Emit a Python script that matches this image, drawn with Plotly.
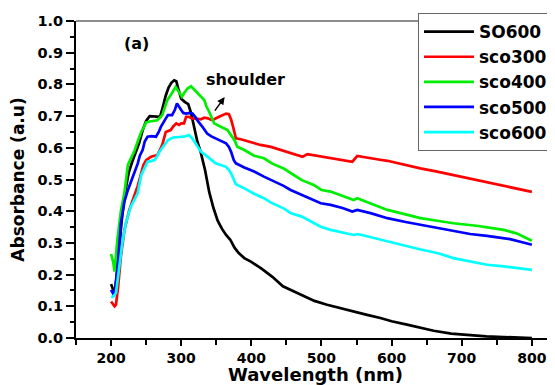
import plotly.graph_objects as go

# ---- data ----
so600_w = [200, 203, 205, 208, 212, 216, 220, 225, 230, 235, 240, 245, 250, 255, 260, 265, 270, 274, 278, 282,
           286, 290, 293, 296, 300, 305, 310, 314, 318, 323, 328, 334, 340, 346, 352, 358, 364, 370, 376, 382,
           390, 400, 415, 430, 445, 460, 475, 490, 508, 525, 546, 565, 584, 600, 622, 640, 660, 685, 712, 735,
           760, 780, 800]
so600_a = [0.17, 0.15, 0.14, 0.2, 0.3, 0.39, 0.46, 0.52, 0.555, 0.585, 0.615, 0.655, 0.685, 0.70, 0.70, 0.70,
           0.698, 0.73, 0.765, 0.79, 0.805, 0.813, 0.81, 0.785, 0.755, 0.745, 0.738, 0.71, 0.67, 0.62, 0.585,
           0.53, 0.46, 0.41, 0.37, 0.345, 0.325, 0.31, 0.285, 0.268, 0.252, 0.24, 0.218, 0.193, 0.163, 0.148,
           0.131, 0.117, 0.105, 0.095, 0.084, 0.073, 0.063, 0.053, 0.042, 0.032, 0.023, 0.014, 0.008, 0.005,
           0.003, 0.001, 0.0]

sco300_w = [200, 203, 205, 207, 210, 214, 219, 226, 233, 238, 243, 246, 250, 257, 262, 266, 270, 273, 278, 285,
            289, 293, 297, 300, 304, 307, 311, 315, 320, 328, 333, 338, 343, 347, 354, 360, 364, 368, 371, 374,
            378, 385, 399, 413, 428, 442, 458, 473, 480, 495, 513, 530, 544, 551, 565, 579, 594, 615, 641, 665,
            690, 712, 735, 760, 780, 800]
sco300_a = [0.115, 0.105, 0.10, 0.105, 0.16, 0.257, 0.34, 0.404, 0.446, 0.48, 0.52, 0.545, 0.561, 0.572, 0.575,
            0.577, 0.595, 0.609, 0.65, 0.656, 0.668, 0.677, 0.672, 0.677, 0.677, 0.698, 0.698, 0.693, 0.692,
            0.69, 0.695, 0.693, 0.688, 0.69, 0.698, 0.705, 0.708, 0.706, 0.69, 0.666, 0.63, 0.627, 0.619, 0.609,
            0.603, 0.593, 0.583, 0.572, 0.58, 0.574, 0.567, 0.562, 0.556, 0.574, 0.568, 0.564, 0.559, 0.548,
            0.535, 0.525, 0.513, 0.504, 0.493, 0.48, 0.47, 0.461]

sco400_w = [200, 203, 205, 209, 214, 219, 222, 224, 228, 233, 238, 243, 247, 250, 255, 260, 266, 273, 280, 286,
            292, 297, 301, 305, 309, 314, 318, 323, 328, 333, 336, 340, 344, 347, 355, 362, 366, 371, 376, 380,
            390, 404, 418, 430, 446, 460, 472, 489, 500, 513, 530, 546, 551, 570, 594, 620, 641, 665, 688, 721,
            745, 760, 778, 790, 800]
sco400_a = [0.265, 0.24, 0.21, 0.31, 0.40, 0.457, 0.51, 0.546, 0.565, 0.588, 0.62, 0.65, 0.666, 0.68, 0.683,
            0.685, 0.687, 0.703, 0.75, 0.77, 0.792, 0.775, 0.761, 0.775, 0.787, 0.794, 0.785, 0.776, 0.762, 0.75,
            0.73, 0.713, 0.69, 0.677, 0.668, 0.66, 0.656, 0.64, 0.624, 0.603, 0.593, 0.575, 0.567, 0.55, 0.535,
            0.515, 0.498, 0.483, 0.467, 0.462, 0.448, 0.435, 0.441, 0.425, 0.404, 0.39, 0.378, 0.37, 0.362,
            0.354, 0.346, 0.341, 0.33, 0.318, 0.307]

sco500_w = [200, 203, 206, 210, 214, 219, 224, 228, 233, 238, 241, 245, 248, 252, 258, 264, 268, 271, 276, 281,
            287, 291, 294, 297, 300, 303, 307, 312, 316, 320, 323, 330, 337, 343, 349, 356, 364, 368, 371, 375,
            378, 390, 404, 418, 432, 446, 456, 472, 485, 499, 513, 530, 544, 551, 570, 594, 620, 641, 665, 688,
            712, 736, 755, 769, 785, 800]
sco500_a = [0.152, 0.14, 0.15, 0.24, 0.36, 0.43, 0.467, 0.49, 0.52, 0.55, 0.575, 0.593, 0.62, 0.635, 0.637,
            0.635, 0.65, 0.666, 0.685, 0.703, 0.703, 0.72, 0.74, 0.728, 0.719, 0.71, 0.708, 0.71, 0.708, 0.698,
            0.687, 0.667, 0.645, 0.636, 0.63, 0.622, 0.614, 0.603, 0.588, 0.561, 0.551, 0.538, 0.525, 0.509,
            0.495, 0.48, 0.467, 0.451, 0.438, 0.425, 0.42, 0.41, 0.399, 0.404, 0.394, 0.378, 0.366, 0.357, 0.346,
            0.336, 0.328, 0.322, 0.317, 0.312, 0.303, 0.294]

sco600_w = [200, 203, 207, 212, 216, 221, 228, 233, 238, 243, 248, 252, 257, 262, 266, 269, 273, 276, 281, 286,
            290, 297, 304, 311, 315, 319, 323, 328, 333, 338, 343, 349, 356, 364, 368, 371, 375, 378, 390, 404,
            418, 428, 446, 456, 472, 485, 499, 513, 530, 546, 552, 566, 584, 600, 622, 640, 655, 670, 688, 710,
            736, 760, 780, 800]
sco600_a = [0.131, 0.13, 0.142, 0.225, 0.3, 0.362, 0.414, 0.435, 0.457, 0.514, 0.54, 0.556, 0.558, 0.561, 0.575,
            0.588, 0.6, 0.609, 0.624, 0.63, 0.633, 0.634, 0.635, 0.64, 0.632, 0.619, 0.605, 0.588, 0.58, 0.572,
            0.562, 0.551, 0.545, 0.54, 0.53, 0.52, 0.5, 0.485, 0.472, 0.455, 0.441, 0.427, 0.409, 0.394, 0.383,
            0.367, 0.351, 0.341, 0.333, 0.325, 0.328, 0.32, 0.31, 0.302, 0.29, 0.28, 0.273, 0.265, 0.252, 0.243,
            0.231, 0.226, 0.22, 0.215]

series_names = ["SO600", "sco300", "sco400", "sco500", "sco600"]
series_colors = ["#000000", "#ff0000", "#00ee00", "#0000ff", "#00ffff"]
series_w = [so600_w, sco300_w, sco400_w, sco500_w, sco600_w]
series_a = [so600_a, sco300_a, sco400_a, sco500_a, sco600_a]

x_ticks = [200, 300, 400, 500, 600, 700, 800]

FONT = "DejaVu Sans"

fig = go.Figure()
for name, col, w, a in zip(series_names, series_colors, series_w, series_a):
    fig.add_trace(go.Scatter(x=w, y=a, mode="lines", name=name,
                             line=dict(color=col, width=2.7)))

# The page body adds an 8px offset, so the figure is 8px smaller than the window.
fig.update_layout(
    width=547, height=377,
    margin=dict(l=68, r=0, t=13, b=47, autoexpand=False),
    paper_bgcolor="white", plot_bgcolor="white",
    font=dict(family=FONT, color="black"),
    showlegend=True,
    legend=dict(x=0.714, y=1.025, xanchor="left", yanchor="top",
                bgcolor="white", bordercolor="#666666", borderwidth=1,
                itemwidth=50,
                font=dict(family=FONT, size=17, weight="bold", color="black"),
                tracegroupgap=0),
    xaxis=dict(range=[150, 833], tickvals=x_ticks, ticks="outside", ticklen=6, tickwidth=2,
               tickcolor="black", showline=True, linecolor="black", linewidth=2,
               showgrid=False, zeroline=False, automargin=False,
               tickfont=dict(family=FONT, size=14, weight="bold"),
               minor=dict(ticks="outside", ticklen=5, tickwidth=2, tickcolor="black",
                          tick0=150, dtick=50, showgrid=False),
               title=dict(text="Wavelength (nm)", standoff=5,
                          font=dict(family=FONT, size=18, weight="bold"))),
    yaxis=dict(range=[0, 1.0], dtick=0.1, tickformat=".1f", ticks="outside", ticklen=8, tickwidth=2,
               tickcolor="black", showline=True, linecolor="black", linewidth=2,
               showgrid=False, zeroline=False, automargin=False,
               tickfont=dict(family=FONT, size=14.5, weight="bold"),
               minor=dict(ticks="outside", ticklen=4, tickwidth=2, tickcolor="black",
                          dtick=0.05, showgrid=False),
               title=dict(text="Absorbance (a.u)", standoff=10,
                          font=dict(family=FONT, size=17, weight="bold"))),
    shapes=[dict(type="line", xref="paper", yref="paper", x0=0, x1=1, y0=1, y1=1,
                 line=dict(color="#666666", width=1.5))],
    annotations=[
        dict(text="(a)", x=236, y=0.93, xref="x", yref="y", showarrow=False,
             font=dict(family=FONT, size=16, weight="bold")),
        dict(text="shoulder", x=392, y=0.815, xref="x", yref="y", showarrow=False,
             font=dict(family=FONT, size=16, weight="bold")),
        dict(text="", x=362, y=0.76, ax=346.5, ay=0.7125, xref="x", yref="y",
             axref="x", ayref="y", showarrow=True, arrowhead=2, arrowsize=1,
             arrowwidth=1.5, arrowcolor="black"),
    ],
)

fig.write_html("out.html")
